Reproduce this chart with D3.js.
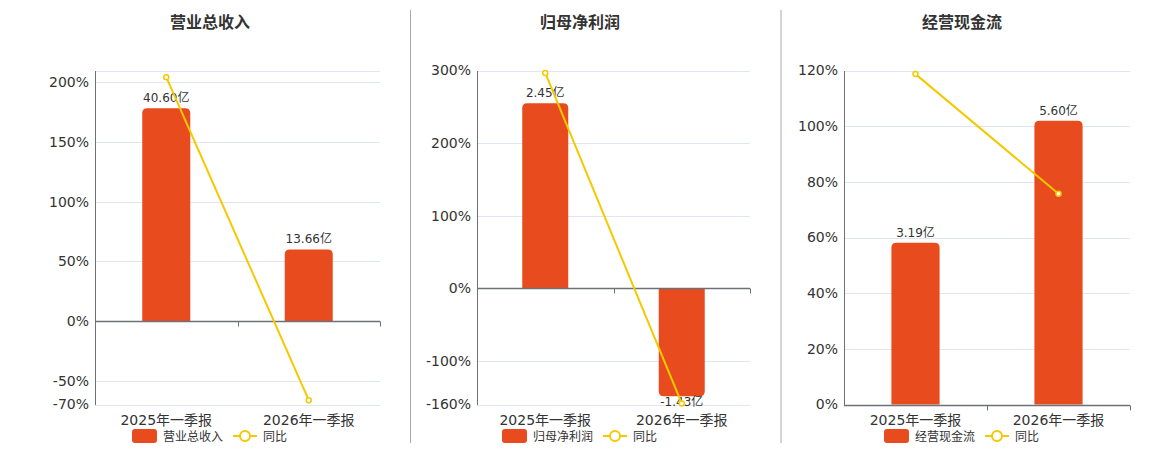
<!DOCTYPE html>
<html>
<head>
<meta charset="utf-8">
<script src="https://cdn.jsdelivr.net/npm/d3@7"></script>
<style>
  body { margin: 0; background: #fff; }
  svg { display: block; font-family: "DejaVu Sans", "Noto Sans CJK SC", sans-serif; }
</style>
</head>
<body>
<svg id="chart" width="1160" height="450"></svg>
<script>
const categories = ["2025年一季报", "2026年一季报"]
const titles = ["营业总收入", "归母净利润", "经营现金流"]

// bars in 亿, yoy in %
const revenue = [40.60, 13.66]
const revenueYoy = [204.4, -66.4]
const profit = [2.45, -1.43]
const profitYoy = [296.7, -158.6]
const cashflow = [3.19, 5.60]
const cashflowYoy = [118.7, 75.7]

const ticks1 = [-70, -50, 0, 50, 100, 150, 200]
const ticks2 = [-160, -100, 0, 100, 200, 300]
const ticks3 = [0, 20, 40, 60, 80, 100, 120]

const barColor = "#e84c1e"
const lineColor = "#f4c900"
const axisColor = "#6e7079"
const gridColor = "#e0e6f1"
const textColor = "#333"

const panels = [
  { title: titles[0], bars: revenue, yoy: revenueYoy, ticks: ticks1, domain: [-70, 210], left: 95, right: 380, center: 210 },
  { title: titles[1], bars: profit, yoy: profitYoy, ticks: ticks2, domain: [-160, 300], left: 477, right: 750, center: 580 },
  { title: titles[2], bars: cashflow, yoy: cashflowYoy, ticks: ticks3, domain: [0, 120], left: 844, right: 1130, center: 962 }
]

const plotTop = 70.5
const plotBottom = 404.5
const svg = d3.select("#chart")

// separators
svg.selectAll("line.sep").data([410.5, 781]).join("line")
  .attr("class", "sep")
  .attr("x1", d => d).attr("x2", d => d)
  .attr("y1", 10).attr("y2", 443)
  .attr("stroke", "#aaa").attr("stroke-width", 1)

const barPath = (x, w, y0, y1, r) => {
  // rounded on the far end from zero
  const dir = y1 < y0 ? 1 : -1
  const h = Math.abs(y0 - y1)
  r = Math.min(r, h / 2, w / 2)
  const p = d3.path()
  p.moveTo(x, y0)
  p.lineTo(x, y1 + dir * r)
  p.quadraticCurveTo(x, y1, x + r, y1)
  p.lineTo(x + w - r, y1)
  p.quadraticCurveTo(x + w, y1, x + w, y1 + dir * r)
  p.lineTo(x + w, y0)
  p.closePath()
  return p.toString()
}

panels.forEach(pn => {
  const g = svg.append("g")

  const x = d3.scaleBand().domain(categories).range([pn.left, pn.right])
  const y = d3.scaleLinear().domain(pn.domain).range([plotBottom, plotTop])
  const barMax = d3.max(pn.bars.map(Math.abs)) * 1.177
  const yBar = d3.scaleLinear().domain([0, barMax]).range([y(0), plotTop])

  g.append("text")
    .attr("x", pn.center).attr("y", 28)
    .attr("text-anchor", "middle")
    .attr("font-size", 16).attr("font-weight", "bold")
    .attr("fill", textColor)
    .text(pn.title)

  // grid
  const gridVals = pn.ticks.concat(pn.domain[1]).filter(v => v !== 0)
  g.selectAll("line.grid").data(gridVals).join("line")
    .attr("class", "grid")
    .attr("x1", pn.left).attr("x2", pn.right)
    .attr("y1", d => Math.round(y(d)) + 0.5).attr("y2", d => Math.round(y(d)) + 0.5)
    .attr("stroke", gridColor)

  // y axis labels
  const yAxis = d3.axisLeft(y).tickValues(pn.ticks).tickSize(0).tickPadding(6).tickFormat(d => d + "%")
  const ya = g.append("g").attr("transform", `translate(${pn.left},0)`).call(yAxis)
  ya.select(".domain").attr("stroke", axisColor)
  ya.selectAll("text").attr("font-size", 14).attr("fill", textColor)
  ya.attr("font-family", null)

  // bars
  const bw = x.bandwidth() * 0.337
  g.selectAll("path.bar").data(pn.bars).join("path")
    .attr("class", "bar")
    .attr("d", (d, i) => barPath(x(categories[i]) + x.bandwidth() / 2 - bw / 2, bw, yBar(0), yBar(d), 5))
    .attr("fill", barColor)

  // value labels
  g.selectAll("text.val").data(pn.bars).join("text")
    .attr("class", "val")
    .attr("x", (d, i) => x(categories[i]) + x.bandwidth() / 2)
    .attr("y", d => d >= 0 ? yBar(d) - 6 : yBar(d) + 10)
    .attr("text-anchor", "middle")
    .attr("font-size", 12).attr("fill", textColor)
    .text(d => d.toFixed(2) + "亿")

  // x axis at zero
  const x0 = Math.round(y(0)) + 0.5
  g.append("line")
    .attr("x1", pn.left).attr("x2", pn.right)
    .attr("y1", x0).attr("y2", x0)
    .attr("stroke", axisColor).attr("stroke-width", 1.5)
  const bounds = [pn.left + x.bandwidth(), pn.right]
  g.selectAll("line.xtick").data(bounds).join("line")
    .attr("class", "xtick")
    .attr("x1", d => Math.round(d) + 0.5).attr("x2", d => Math.round(d) + 0.5)
    .attr("y1", x0).attr("y2", x0 + 5)
    .attr("stroke", axisColor)

  g.selectAll("text.cat").data(categories).join("text")
    .attr("class", "cat")
    .attr("x", d => x(d) + x.bandwidth() / 2)
    .attr("y", 425)
    .attr("text-anchor", "middle")
    .attr("font-size", 14).attr("fill", textColor)
    .text(d => d)

  // yoy line
  const line = d3.line()
    .x((d, i) => x(categories[i]) + x.bandwidth() / 2)
    .y(d => y(d))
  g.append("path")
    .datum(pn.yoy)
    .attr("d", line)
    .attr("fill", "none").attr("stroke", lineColor).attr("stroke-width", 2)
  g.selectAll("circle.pt").data(pn.yoy).join("circle")
    .attr("class", "pt")
    .attr("cx", (d, i) => x(categories[i]) + x.bandwidth() / 2)
    .attr("cy", d => y(d))
    .attr("r", 2.5)
    .attr("fill", "#fff").attr("stroke", lineColor).attr("stroke-width", 1.5)

  // legend
  const lg = g.append("g").attr("transform", `translate(${pn.center - 78},436)`)
  lg.append("rect").attr("x", 0).attr("y", -7).attr("width", 25).attr("height", 14).attr("rx", 3).attr("fill", barColor)
  lg.append("text").attr("x", 31).attr("y", 4.5).attr("font-size", 12).attr("fill", textColor).text(pn.title)
  lg.append("line").attr("x1", 101).attr("x2", 125).attr("y1", 0).attr("y2", 0).attr("stroke", lineColor).attr("stroke-width", 2)
  lg.append("circle").attr("cx", 113).attr("cy", 0).attr("r", 5).attr("fill", "#fff").attr("stroke", lineColor).attr("stroke-width", 2)
  lg.append("text").attr("x", 131).attr("y", 4.5).attr("font-size", 12).attr("fill", textColor).text("同比")
})
</script>
</body>
</html>
